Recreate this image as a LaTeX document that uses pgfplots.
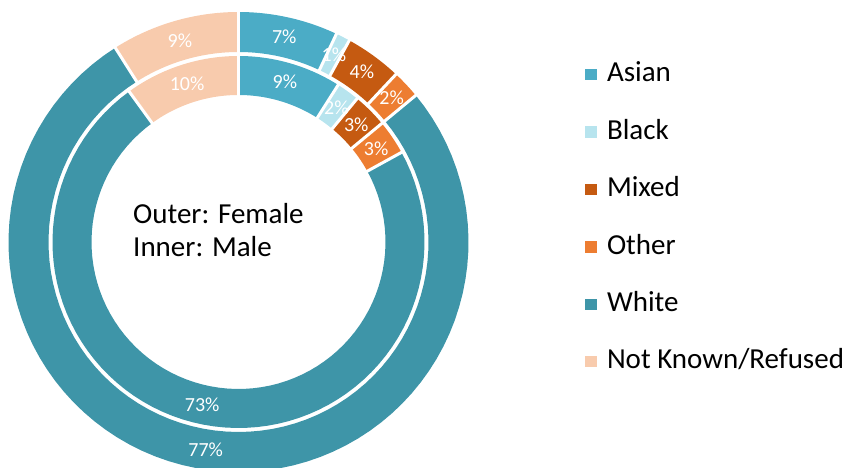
\documentclass[border=0pt]{standalone}
\usepackage{fontspec}
\setmainfont{Carlito}
\usepackage{pgfplots}
\pgfplotsset{compat=1.18}

\definecolor{cAsian}{HTML}{4BACC6}
\definecolor{cBlack}{HTML}{B7E4EE}
\definecolor{cMixed}{HTML}{C55A11}
\definecolor{cOther}{HTML}{ED7D31}
\definecolor{cWhite}{HTML}{3E95A8}
\definecolor{cNK}{HTML}{F8CBAD}

\newcommand\lab{\fontsize{20}{20}\selectfont}
\newcommand\txt{\fontsize{29}{29}\selectfont}
\def\cx{238.5}
\def\cy{226}

% #1 inner radius, #2 outer radius, #3 label radius, #4 value/colour list (clockwise from 12 o'clock)
\newcommand\ring[4]{%
  \gdef\cum{0}%
  \foreach \vv/\vc in {#4} {%
    \pgfmathsetmacro\va{\cum*3.6}%
    \pgfmathsetmacro\vb{(\cum+\vv)*3.6}%
    \pgfmathsetmacro\rmid{(#1+#2)/2}%
    \pgfmathsetmacro\lw{#2-#1}%
    \edef\temp{\noexpand\addplot[draw=\vc, line width=\lw pt, domain=\va:\vb, samples=80, forget plot]
      ({\cx+\rmid*sin(x)},{\cy+\rmid*cos(x)});}%
    \temp
    \pgfmathsetmacro\nc{\cum+\vv}\xdef\cum{\nc}%
  }%
  \gdef\cum{0}%
  \foreach \vv/\vc in {#4} {%
    \pgfmathsetmacro\va{\cum*3.6}%
    \pgfmathsetmacro\vm{(\cum+\vv/2)*3.6}%
    \edef\temp{\noexpand\addplot[white, line width=3pt, domain=#1-1:#2+1, samples=2, forget plot]
      ({\cx+x*sin(\va)},{\cy+x*cos(\va)});
      \noexpand\node[text=white, font=\noexpand\lab, inner sep=0pt] at (axis cs:{\cx+#3*sin(\vm)},{\cy+#3*cos(\vm)}) {\vv\noexpand\%};}%
    \temp
    \pgfmathsetmacro\nc{\cum+\vv}\xdef\cum{\nc}%
  }%
}

\begin{document}
\begin{tikzpicture}
\begin{axis}[width=849pt, height=468pt, scale only axis,
  xmin=0, xmax=849, ymin=0, ymax=468, hide axis, clip=true,
  legend image code/.code={\fill[#1, draw=none] (0pt,1.5pt) rectangle (12pt,13pt);},
  legend cell align=left,
  legend style={at={(axis cs:585,406)}, anchor=north west, draw=none, fill=none,
    inner sep=0pt, outer sep=0pt, row sep=31.4pt, column sep=10pt, font=\txt,
    nodes={inner sep=0pt, text height=20pt, text depth=6pt, anchor=base west}}]

% Female (outer)
\ring{190}{230}{210}{7/cAsian,1/cBlack,4/cMixed,2/cOther,77/cWhite,9/cNK}
% Male (inner)
\ring{147}{186}{166.5}{9/cAsian,2/cBlack,3/cMixed,3/cOther,73/cWhite,10/cNK}

\node[anchor=base west, font=\txt, inner sep=0pt] at (axis cs:133,244) {Outer: Female};
\node[anchor=base west, font=\txt, inner sep=0pt] at (axis cs:133,211) {Inner: Male};

\addlegendimage{fill=cAsian}\addlegendentry{Asian}
\addlegendimage{fill=cBlack}\addlegendentry{Black}
\addlegendimage{fill=cMixed}\addlegendentry{Mixed}
\addlegendimage{fill=cOther}\addlegendentry{Other}
\addlegendimage{fill=cWhite}\addlegendentry{White}
\addlegendimage{fill=cNK}\addlegendentry{Not Known/Refused}
\end{axis}
\pgfresetboundingbox
\path (current axis.south west) rectangle (current axis.north east);
\end{tikzpicture}
\end{document}
